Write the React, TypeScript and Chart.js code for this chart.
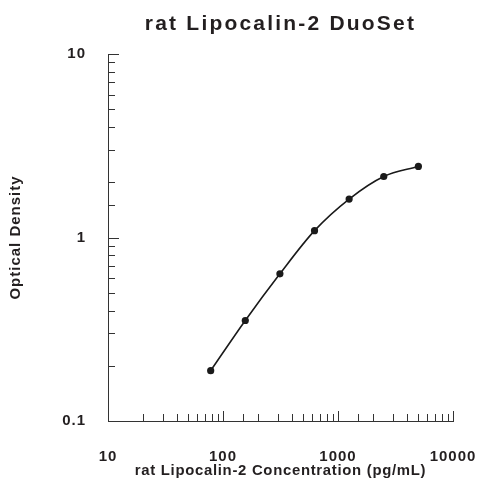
import React, { useEffect, useRef } from "react";
import { Chart, registerables } from "chart.js";

Chart.register(...registerables);

const concentrations = [78.125, 156.25, 312.5, 625, 1250, 2500, 5000];
const opticalDensity = [0.188, 0.353, 0.634, 1.09, 1.62, 2.15, 2.44];
const xRange = [10, 10000];
const yRange = [0.1, 10];

const TITLE = "rat Lipocalin-2 DuoSet";
const X_TITLE = "rat Lipocalin-2 Concentration (pg/mL)";
const Y_TITLE = "Optical Density";

const FAMILY = "'Liberation Sans', Arial, Helvetica, sans-serif";
const TEXT = "#231f20";
const AXIS = "#333333";

const spacingFor = (font: string) => {
  const m = /(\d+(?:\.\d+)?)px/.exec(font);
  const size = m ? parseFloat(m[1]) : 12;
  if (size >= 20) return "2.2px";
  if (size === 14.9) return "0.7px";
  return "1px";
};

const isPow10 = (v: number) => {
  const l = Math.log10(v);
  return Math.abs(l - Math.round(l)) < 1e-9;
};

const innerTicks = {
  id: "innerTicks",
  afterDraw(chart: any) {
    const { ctx, chartArea, scales } = chart;
    const xs = scales.x;
    const ys = scales.y;
    ctx.save();
    ctx.strokeStyle = AXIS;
    ctx.lineWidth = 1;
    ctx.beginPath();
    for (const t of xs.ticks) {
      const px = Math.round(xs.getPixelForValue(t.value)) + 0.5;
      const len = isPow10(t.value) ? 10 : 7;
      ctx.moveTo(px, chartArea.bottom);
      ctx.lineTo(px, chartArea.bottom - len);
    }
    for (const t of ys.ticks) {
      const py = Math.round(ys.getPixelForValue(t.value)) + 0.5;
      const len = isPow10(t.value) ? 11 : 7;
      ctx.moveTo(chartArea.left, py);
      ctx.lineTo(chartArea.left + len, py);
    }
    ctx.stroke();
    ctx.restore();
  },
};

export default function App() {
  const ref = useRef<HTMLCanvasElement | null>(null);

  useEffect(() => {
    const canvas = ref.current;
    if (!canvas) return;
    const ctx: any = canvas.getContext("2d");
    const origFill = ctx.fillText;
    const origMeasure = ctx.measureText;
    ctx.fillText = function (this: any) {
      this.letterSpacing = spacingFor(this.font);
      return origFill.apply(this, arguments as any);
    };
    ctx.measureText = function (this: any) {
      this.letterSpacing = spacingFor(this.font);
      return origMeasure.apply(this, arguments as any);
    };

    const labelCb = (v: any) => {
      const n = Number(v);
      return isPow10(n) ? String(n) : "";
    };

    const chart = new Chart(canvas, {
      type: "line",
      data: {
        datasets: [
          {
            data: concentrations.map((c, i) => ({ x: c, y: opticalDensity[i] })),
            borderColor: "#1a1a1a",
            backgroundColor: "#1a1a1a",
            borderWidth: 1.6,
            pointRadius: 3.6,
            pointBorderWidth: 0,
            pointBackgroundColor: "#1a1a1a",
            cubicInterpolationMode: "monotone",
            fill: false,
          },
        ],
      },
      options: {
        animation: false,
        responsive: false,
        layout: { padding: { left: 0, right: 24, top: 0, bottom: 0 } },
        plugins: {
          legend: { display: false },
          tooltip: { enabled: false },
          title: {
            display: true,
            text: TITLE,
            fullSize: false,
            color: TEXT,
            font: { family: FAMILY, size: 21, weight: "bold", lineHeight: 1.2 },
            padding: { top: 12, bottom: 16.8 },
          },
        },
        scales: {
          x: {
            type: "logarithmic",
            position: "bottom",
            min: xRange[0],
            max: xRange[1],
            grid: { display: false, drawTicks: true, tickLength: 27 },
            border: { display: true, color: AXIS, width: 1 },
            ticks: {
              autoSkip: false,
              maxRotation: 0,
              padding: 0,
              color: TEXT,
              font: { family: FAMILY, size: 15, weight: "bold", lineHeight: 1.2 },
              callback: labelCb,
            },
            title: {
              display: true,
              text: X_TITLE,
              color: TEXT,
              font: { family: FAMILY, size: 14.9, weight: "bold", lineHeight: 1.2 },
              padding: { top: 0, bottom: 1 },
            },
            afterFit: (s: any) => {
              s.height = 60;
            },
          },
          y: {
            type: "logarithmic",
            position: "left",
            min: yRange[0],
            max: yRange[1],
            grid: { display: false, drawTicks: false, tickLength: 0 },
            border: { display: true, color: AXIS, width: 1 },
            ticks: {
              autoSkip: false,
              padding: 22,
              color: TEXT,
              font: { family: FAMILY, size: 15, weight: "bold", lineHeight: 1.2 },
              callback: labelCb,
            },
            title: {
              display: true,
              text: Y_TITLE,
              color: TEXT,
              font: { family: FAMILY, size: 15, weight: "bold", lineHeight: 1.2 },
              padding: { top: 7, bottom: 0 },
            },
            afterFit: (s: any) => {
              s.width = 108;
            },
          },
        },
      },
      plugins: [innerTicks],
    });

    return () => {
      chart.destroy();
      ctx.fillText = origFill;
      ctx.measureText = origMeasure;
    };
  }, []);

  return (
    <div style={{ position: "fixed", left: 0, top: 0, width: 477, height: 481, background: "#fff" }}>
      <canvas ref={ref} width={477} height={481} style={{ display: "block" }} />
    </div>
  );
}
